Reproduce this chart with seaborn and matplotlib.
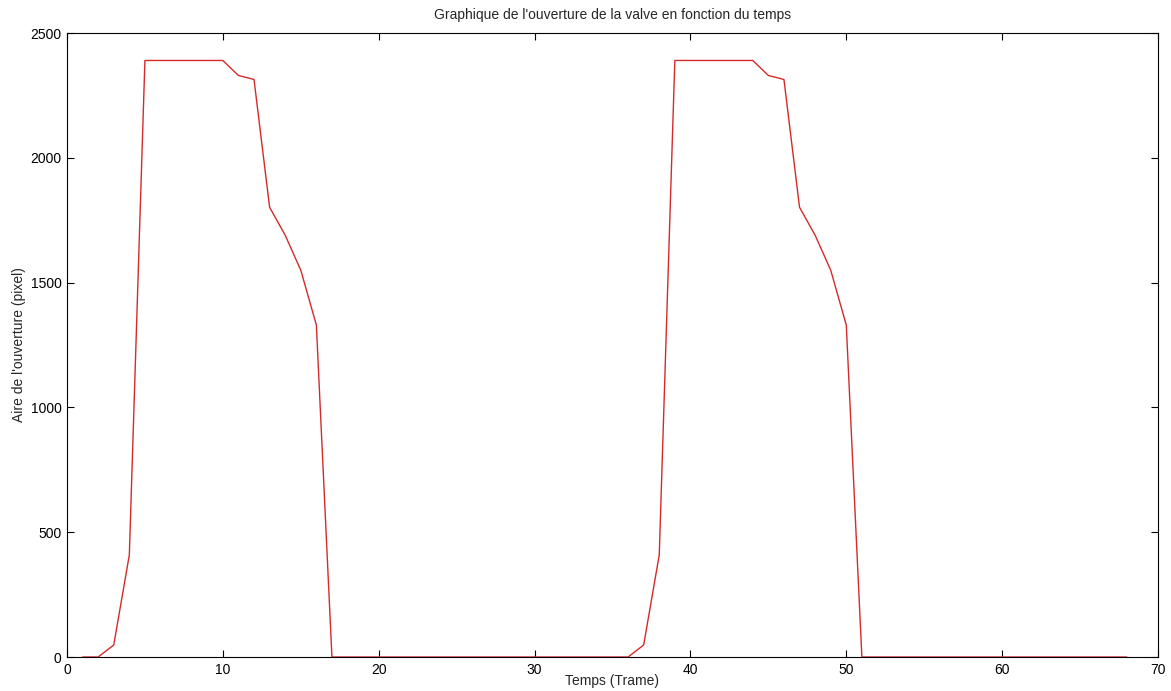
import matplotlib
matplotlib.use("Agg")
import matplotlib.pyplot as plt
import seaborn as sns
import pandas as pd
import numpy as np

frames = list(range(1, 69))
cycle1 = [0, 0, 48, 409, 2390, 2390, 2390, 2390, 2390, 2390, 2330, 2314, 1802, 1690, 1550, 1330]
zeros1 = [0] * 19  # frames 17..35
cycle2 = [0, 48, 409, 2390, 2390, 2390, 2390, 2390, 2390, 2330, 2314, 1802, 1690, 1550, 1330]  # frames 36..50
zeros2 = [0] * 18  # frames 51..68
area = cycle1 + zeros1 + cycle2 + zeros2

df = pd.DataFrame({"Temps": frames, "Aire": area})

sns.set_theme(style="ticks")
plt.rcParams['font.family'] = ['Liberation Sans', 'DejaVu Sans']

fig = plt.figure(figsize=(11.71, 6.91), dpi=100)
ax = fig.add_axes([0.0572, 0.0492, 0.9317, 0.903])
sns.lineplot(data=df, x="Temps", y="Aire", ax=ax, color="#d42a2a", linewidth=1.0)

ax.set_xlim(0, 70)
ax.set_ylim(0, 2500)
ax.set_xticks(range(0, 71, 10))
ax.set_yticks(range(0, 2501, 500))
ax.tick_params(direction="in", top=True, right=True, length=5, width=0.8,
               labelsize=10, colors="black", pad=4)
for s in ax.spines.values():
    s.set_visible(True)
    s.set_linewidth(0.8)
    s.set_color("black")
ax.set_xlabel("Temps (Trame)", fontsize=10, labelpad=-2)
ax.set_ylabel("Aire de l'ouverture (pixel)", fontsize=10, labelpad=3)
ax.set_title("Graphique de l'ouverture de la valve en fonction du temps", fontsize=10, pad=10)
fig.savefig("out.png", dpi=100, facecolor="white")
